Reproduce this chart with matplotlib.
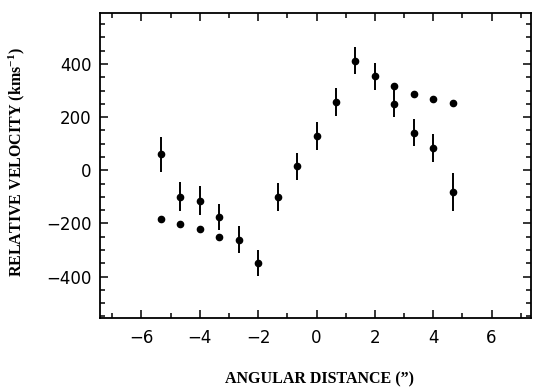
import numpy as np
import matplotlib
matplotlib.use("Agg")
import matplotlib.pyplot as plt
from matplotlib.ticker import MultipleLocator

# ------------------------------------------------------------
# Data
# ------------------------------------------------------------
# points with error bars
x_err = [-5.33, -4.67, -4.0, -3.33, -2.67, -2.0, -1.33, -0.67, 0.0,
         0.67, 1.33, 2.0, 2.67, 3.33, 4.0, 4.67]
v_err = [60, -100, -115, -176, -261, -349, -100, 15, 130,
         256, 413, 354, 251, 142, 85, -82]
e_err = [66, 55, 55, 50, 50, 50, 52, 50, 52,
         52, 51, 51, 52, 52, 52, 70]

# points without error bars
x_pt = [-5.33, -4.67, -4.0, -3.33, 2.67, 3.33, 4.0, 4.67]
v_pt = [-185, -201, -221, -251, 319, 289, 270, 253]

xticks = [-6, -4, -2, 0, 2, 4, 6]
yticks = [-400, -200, 0, 200, 400]

plt.rcParams["mathtext.fontset"] = "custom"
plt.rcParams["mathtext.rm"] = "Liberation Serif:bold"
plt.rcParams["mathtext.default"] = "rm"

# ------------------------------------------------------------
# Plot
# ------------------------------------------------------------
fig = plt.figure(figsize=(5.33, 3.88), dpi=100)
ax = fig.add_axes([0.1876, 0.1804, 0.8086, 0.786])

ax.errorbar(x_err, v_err, yerr=e_err, fmt="o", color="black",
            markersize=4.5, elinewidth=1.4, capsize=0)
ax.plot(x_pt, v_pt, "o", color="black", markersize=4.5)

ax.set_xlim(-7.42, 7.35)
ax.set_ylim(-556, 592)
ax.set_xticks(xticks)
ax.set_yticks(yticks)
ax.xaxis.set_minor_locator(MultipleLocator(1))
ax.yaxis.set_minor_locator(MultipleLocator(50))

ax.tick_params(which="both", direction="in", top=True, right=True,
               width=1.1, labelsize=12)
ax.tick_params(which="major", length=6)
ax.tick_params(axis="x", which="major", pad=8)
ax.tick_params(axis="y", which="major", pad=6)
ax.tick_params(which="minor", length=3.5)
for s in ax.spines.values():
    s.set_linewidth(1.3)

lab_font = dict(family="Liberation Serif", weight="bold", size=11.5)
ax.set_xlabel("ANGULAR DISTANCE (\u201d)", fontdict=lab_font)
ax.set_ylabel("RELATIVE VELOCITY (kms$^{-1}$)", fontdict=lab_font)
ax.xaxis.set_label_coords(0.51, -0.175)
ax.yaxis.set_label_coords(-0.17, 0.51)

fig.savefig("out.png", dpi=100)
